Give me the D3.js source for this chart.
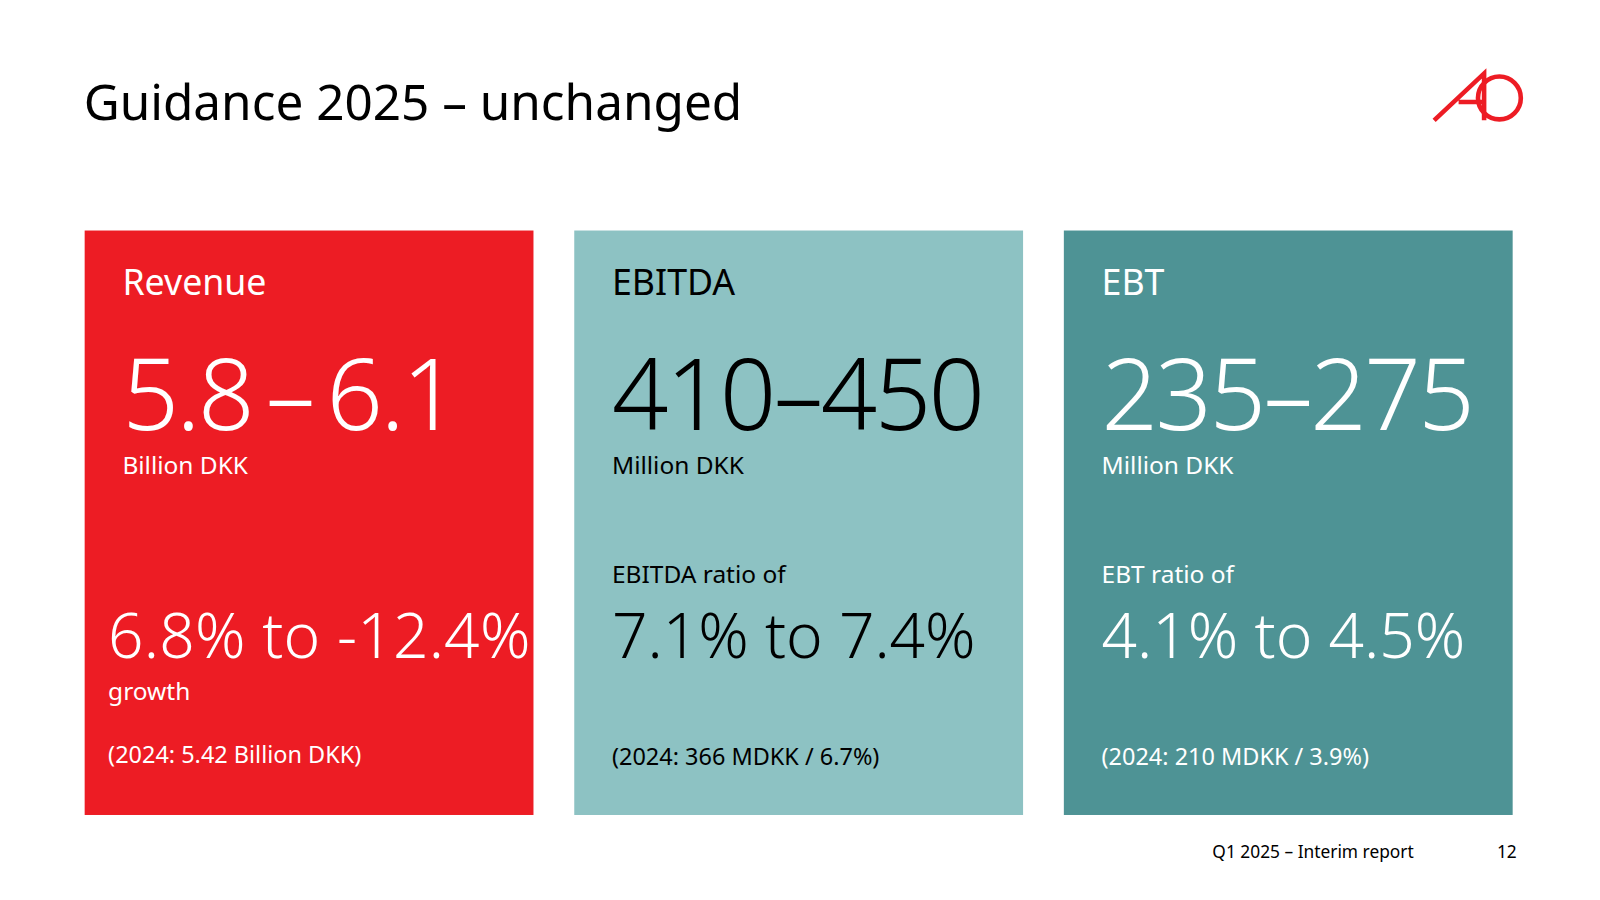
<!DOCTYPE html><html><head><meta charset="utf-8"><script src="https://cdn.jsdelivr.net/npm/d3@7"></script>
<style>body{margin:0;background:#fff}</style></head><body><svg id="c" width="1600" height="900"></svg>
<script>
const cards=["Revenue","EBITDA","EBT"];
const ranges=["5.8\u2009\u2013\u20096.1","410\u2013450","235\u2013275"];
const units=["Billion DKK","Million DKK","Million DKK"];
const ratioLabels=["","EBITDA ratio of","EBT ratio of"];
const ratios=["6.8% to -12.4%","7.1% to 7.4%","4.1% to 4.5%"];
const ratioSub=["growth","",""];
const prior=["(2024: 5.42 Billion DKK)","(2024: 366 MDKK / 6.7%)","(2024: 210 MDKK / 3.9%)"];
const fills=["#ED1C24","#8DC2C3","#4E9395"];
const inks=["#fff","#000","#fff"];
const svg=d3.select("#c").append("g").attr("transform","scale(1.02)"),F="'Noto Sans', 'Open Sans', sans-serif";
svg.append("text").attr("x",82).attr("y",118).attr("font-family",F).attr("font-size",48.5).attr("fill","#000").text("Guidance 2025 \u2013 unchanged");
const x=d3.scaleBand().domain(cards).range([83,1483]).paddingInner(0.0833);
const g=svg.selectAll("g.card").data(cards).join("g").attr("transform",d=>`translate(${x(d)},226)`);
g.append("rect").attr("width",x.bandwidth()).attr("height",573).attr("fill",(d,i)=>fills[i]);
const t=(sel,yy,sz,f,dx=37,w=400)=>sel.append("text").attr("x",dx).attr("y",yy).attr("font-family",F).attr("font-size",sz).attr("font-weight",w).attr("fill",(d,i)=>inks[i]).text(f);
t(g,63,35,d=>d);
t(g,196,97,(d,i)=>ranges[i],37,300).attr("letter-spacing",-2.5);
t(g,239,24,(d,i)=>units[i]);
t(g,346,24,(d,i)=>ratioLabels[i]);
g.append("text").attr("x",(d,i)=>i==0?23:37).attr("y",419).attr("font-family",F).attr("font-size",61).attr("font-weight",300).attr("fill",(d,i)=>inks[i]).text((d,i)=>ratios[i]).attr("textLength",(d,i)=>i==0?414:null);
g.append("text").attr("x",23).attr("y",460).attr("font-family",F).attr("font-size",24).attr("fill",(d,i)=>inks[i]).text((d,i)=>ratioSub[i]);
g.append("text").attr("x",(d,i)=>i==0?23:37).attr("y",(d,i)=>i==0?522:524).attr("font-family",F).attr("font-size",23).attr("fill",(d,i)=>inks[i]).text((d,i)=>prior[i]);
svg.append("text").attr("x",1386).attr("y",841).attr("text-anchor","end").attr("font-family",F).attr("font-size",17).text("Q1 2025 \u2013 Interim report");
svg.append("text").attr("x",1487).attr("y",841).attr("text-anchor","end").attr("font-family",F).attr("font-size",17).text("12");
const lg=svg.append("g").attr("fill","none").attr("stroke","#ED1C24").attr("stroke-width",4.5);
lg.append("path").attr("d","M1406,118 L1455,72 L1455,118 M1430,100 L1455,100");
lg.append("circle").attr("cx",1470).attr("cy",96).attr("r",21);
</script></body></html>
